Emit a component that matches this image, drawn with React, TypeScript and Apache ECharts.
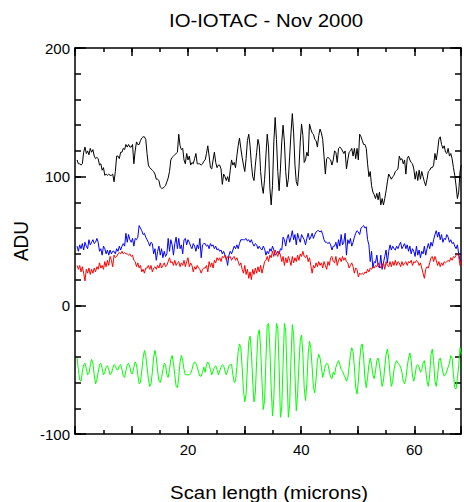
import React, { useEffect, useRef } from 'react';
import * as echarts from 'echarts';

const TITLE = 'IO-IOTAC - Nov 2000';
const X_NAME = 'Scan length (microns)';
const Y_NAME = 'ADU';

// sampling of the scan (microns)
const X_START = 0.364;
const X_STEP = 0.2335;
const X_MIN = 0;
const X_MAX = 68.25;
const Y_MIN = -100;
const Y_MAX = 200;

const X_MAJOR_STEP = 10;
const X_MINOR_STEP = 5;
const X_LABEL_STEP = 20;
const Y_MAJOR_STEP = 100;
const Y_MINOR_STEP = 20;

const blackValues = [
  113,110,110,109,110,119,123,118,120,117, 122,119,121,116,114,115,114,109,110,105,
  107,101,102,101,102,101,101,102,96,104, 116,116,114,119,119,122,121,125,123,125,
  123,123,125,110,120,127,125,125,128,130, 131,131,129,118,109,107,106,105,104,102,
  98,98,97,92,91,91,92,93,96,99, 104,113,115,116,117,118,119,133,124,121,
  122,113,110,118,113,116,109,111,110,114, 118,110,110,110,109,110,112,
  113,118,124,116,107,106,113,119,111,107, 109,109,106,94,102,100,97,100,96,105,
  113,109,111,107,116,124,130,122,115,109, 104,114,128,133,124,110,100,97,109,119,
  129,124,104,93,87,98,116,133,123,91, 78,93,127,146,129,104,89,106,127,140,
  127,104,92,98,116,134,149,134,109,96, 93,106,127,141,132,111,113,119,116,141,
  137,134,133,129,128,123,132,137,134,129, 116,102,114,115,114,113,109,113,
  120,119,111,122,123,122,120,118,120,106, 113,119,120,122,116,122,114,122,113,133,
  131,128,125,125,122,110,100,104,93,88, 86,83,87,82,88,78,83,78,83,89,
  96,102,100,98,100,101,104,105,106,116, 113,114,110,113,102,114,116,113,111,110,
  106,98,104,97,105,98,104,100,96,93, 98,104,105,107,107,109,118,113,120,129,
  131,125,122,124,119,118,122,116,118,114, 107,101,93,83,88,104,109
];

const blueValues = [
  46,42,47,44,48,43,49,46,44,51, 47,49,51,48,49,52,49,42,44,39,
  46,44,40,43,39,43,40,42,42,40, 44,42,46,43,46,48,46,56,49,55,
  51,49,52,46,52,51,53,62,60,58, 55,56,53,51,49,46,49,48,40,44,
  35,42,46,39,44,37,42,38,40,52, 42,51,47,39,48,53,44,52,44,47,
  40,51,52,47,51,49,46,44,48,46, 42,47,44,52,37,47,48,
  48,46,47,44,48,46,47,44,46,43, 44,42,43,40,42,39,37,31,39,42,
  40,43,46,44,47,44,48,51,51,51, 51,52,50,51,49,51,48,46,48,47,
  44,46,44,43,46,44,39,42,40,44, 42,46,43,39,40,42,40,44,43,53,
  51,46,52,55,49,53,58,51,55,47, 56,52,49,55,53,51,47,52,56,51,
  53,56,52,55,57,58,58,57,58,55, 51,49,49,48,49,47,43,46,
  46,49,44,51,46,55,47,49,56,39, 51,48,52,46,49,53,56,58,57,55,
  60,61,62,60,61,51,47,34,42,29, 34,33,39,31,29,39,28,33,38,43,
  33,42,47,43,46,44,43,46,44,47, 49,44,46,48,44,47,42,46,40,44,
  42,38,46,39,43,37,42,40,46,39, 44,48,44,49,46,51,55,58,53,57,
  51,55,49,52,51,55,53,49,51,48, 49,46,44,47,40,35,34
];

const redValues = [
  31,28,31,26,30,25,19,28,25,29, 24,28,25,29,26,30,28,33,29,31,
  28,34,30,35,31,38,35,30,39,37, 38,40,41,40,42,40,41,40,40,39,
  40,38,39,35,34,30,33,29,31,26, 28,25,29,29,31,28,31,26,29,30,
  28,31,29,33,29,31,33,30,31,34, 37,33,34,31,35,31,33,34,30,33,
  31,35,30,34,37,30,33,31,26,30, 28,31,29,28,25,28,29,
  29,31,26,34,30,33,29,35,33,37, 35,37,34,38,37,39,35,38,37,38,
  35,37,38,35,37,34,31,33,28,25, 31,24,28,21,26,20,28,24,29,25,
  30,26,31,25,29,34,35,38,34,39, 37,42,38,43,40,38,42,39,34,38,
  31,37,33,38,35,31,38,33,37,34, 39,35,40,38,42,38,37,39,34,37,
  31,25,31,29,33,30,34,31,33,29, 34,31,28,34,31,37,38,34,
  33,38,31,35,37,34,38,35,37,34, 33,29,31,33,30,25,29,28,22,25,
  24,25,24,26,25,28,26,29,28,30, 29,31,30,33,31,29,31,33,28,34,
  31,30,34,30,34,31,35,31,34,33, 30,34,31,33,34,31,34,33,35,31,
  34,33,35,34,31,33,29,25,21,28, 30,29,33,37,38,34,38,35,31,34,
  30,33,31,34,33,34,35,34,37,35, 38,37,39,40,38,31,35
];

const greenValues = [
  -41,-50,-58,-59,-52,-46,-45,-49,-54,-53, -47,-42,-45,-54,-61,-58,-52,-46,-45,-49,
  -54,-52,-48,-47,-50,-54,-53,-49,-46,-47, -50,-50,-47,-46,-50,-55,-56,-51,-46,-45,
  -48,-53,-53,-48,-44,-46,-54,-61,-60,-51, -41,-35,-39,-48,-57,-63,-61,-52,-40,-35,
  -41,-51,-59,-60,-56,-50,-45,-46,-54,-56, -50,-42,-39,-45,-54,-63,-64,-56,-44,-39,
  -43,-50,-54,-54,-54,-54,-53,-50,-46,-44, -45,-48,-52,-55,-55,-52,-48,
  -52,-46,-44,-46,-50,-54,-51,-48,-47,-50, -54,-51,-48,-46,-47,-51,-54,-51,-47,-46,
  -46,-54,-60,-59,-48,-36,-30,-33,-48,-66, -75,-69,-48,-28,-24,-36,-59,-75,-68,-43,
  -23,-19,-33,-59,-81,-74,-43,-15,-14,-33, -64,-86,-72,-38,-14,-18,-48,-87,-79,-46,
  -14,-20,-54,-87,-77,-41,-15,-23,-54,-82, -69,-46,-27,-23,-38,-64,-74,-61,-38,-28,
  -33,-48,-64,-68,-57,-43,-38,-41,-48,-56, -52,-47,-45,-46,-51,-56,-57,-52,
  -54,-48,-45,-43,-46,-50,-51,-54,-56,-59, -56,-48,-38,-33,-36,-48,-64,-69,-59,-43,
  -32,-30,-41,-57,-64,-56,-46,-41,-46,-54, -57,-51,-43,-41,-46,-55,-63,-59,-48,-38,
  -34,-41,-54,-63,-59,-50,-45,-43,-45,-46, -48,-52,-59,-61,-57,-48,-41,-37,-43,-55,
  -59,-54,-47,-46,-48,-52,-50,-45,-43,-50, -59,-63,-54,-38,-34,-43,-59,-63,-55,-43,
  -41,-46,-52,-55,-54,-51,-48,-45,-39,-41, -54,-64,-65,-57,-47,-33,-38
];

const SERIES = [
  { name: 'black', color: '#000000', values: blackValues },
  { name: 'blue', color: '#0000ff', values: blueValues },
  { name: 'red', color: '#ff0000', values: redValues },
  { name: 'green', color: '#00ff00', values: greenValues },
];

const FONT = '"Liberation Sans", Arial, Helvetica, sans-serif';
const AXIS_COLOR = '#000000';
const AXIS_WIDTH = 1.5;

function toPairs(values: number[]) {
  return values.map((v, i) => [+(X_START + i * X_STEP).toFixed(4), v]);
}

function xAxisDef(position: 'top' | 'bottom', interval: number, len: number, line: boolean, labels: boolean) {
  return {
    type: 'value',
    position,
    min: X_MIN,
    max: X_MAX,
    interval,
    axisLine: { show: line, onZero: false, lineStyle: { color: AXIS_COLOR, width: AXIS_WIDTH } },
    axisTick: { show: true, inside: true, length: len, lineStyle: { color: AXIS_COLOR, width: AXIS_WIDTH } },
    axisLabel: labels
      ? {
          show: true,
          color: '#000',
          fontSize: 15,
          fontFamily: FONT,
          margin: 8,
          formatter: (v: number) => (v > 0 && Math.abs(v % X_LABEL_STEP) < 1e-6 ? String(v) : ''),
        }
      : { show: false },
    splitLine: { show: false },
  };
}

function yAxisDef(position: 'left' | 'right', interval: number, len: number, line: boolean, labels: boolean) {
  return {
    type: 'value',
    position,
    min: Y_MIN,
    max: Y_MAX,
    interval,
    axisLine: { show: line, onZero: false, lineStyle: { color: AXIS_COLOR, width: AXIS_WIDTH } },
    axisTick: { show: true, inside: true, length: len, lineStyle: { color: AXIS_COLOR, width: AXIS_WIDTH } },
    axisLabel: labels
      ? { show: true, color: '#000', fontSize: 15, fontFamily: FONT, margin: 5 }
      : { show: false },
    splitLine: { show: false },
  };
}

export default function App() {
  const ref = useRef<HTMLDivElement>(null);

  useEffect(() => {
    if (!ref.current) return;
    const chart = echarts.init(ref.current, null, { renderer: 'svg' });
    chart.setOption({
      animation: false,
      backgroundColor: '#ffffff',
      grid: { left: 75, right: 1, top: 48, bottom: 68, containLabel: false },
      xAxis: [
        xAxisDef('bottom', X_MAJOR_STEP, 8, true, true),
        xAxisDef('bottom', X_MINOR_STEP, 4, false, false),
        xAxisDef('top', X_MAJOR_STEP, 8, true, false),
        xAxisDef('top', X_MINOR_STEP, 4, false, false),
      ],
      yAxis: [
        yAxisDef('left', Y_MAJOR_STEP, 11, true, true),
        yAxisDef('left', Y_MINOR_STEP, 6, false, false),
        yAxisDef('right', Y_MAJOR_STEP, 11, true, false),
        yAxisDef('right', Y_MINOR_STEP, 6, false, false),
      ],
      series: SERIES.map((s) => ({
        name: s.name,
        type: 'line',
        xAxisIndex: 0,
        yAxisIndex: 0,
        data: toPairs(s.values),
        showSymbol: false,
        symbol: 'none',
        clip: true,
        lineStyle: { color: s.color, width: 1 },
        itemStyle: { color: s.color },
        z: 2,
      })),
      graphic: [
        {
          type: 'text',
          x: 266,
          y: 20,
          scaleX: 1.1,
          style: { text: TITLE, fill: '#000', font: `18.5px ${FONT}`, textAlign: 'center', textVerticalAlign: 'middle' },
        },
        {
          type: 'text',
          x: 269,
          y: 492,
          scaleX: 1.1,
          style: { text: X_NAME, fill: '#000', font: `18.5px ${FONT}`, textAlign: 'center', textVerticalAlign: 'middle' },
        },
        {
          type: 'text',
          x: 21,
          y: 241,
          rotation: Math.PI / 2,
          scaleY: 1.1,
          style: { text: Y_NAME, fill: '#000', font: `19px ${FONT}`, textAlign: 'center', textVerticalAlign: 'middle' },
        },
      ],
    });
    return () => chart.dispose();
  }, []);

  return (
    <div
      ref={ref}
      style={{ position: 'absolute', left: 0, top: 0, width: 464, height: 502, background: '#fff' }}
    />
  );
}
